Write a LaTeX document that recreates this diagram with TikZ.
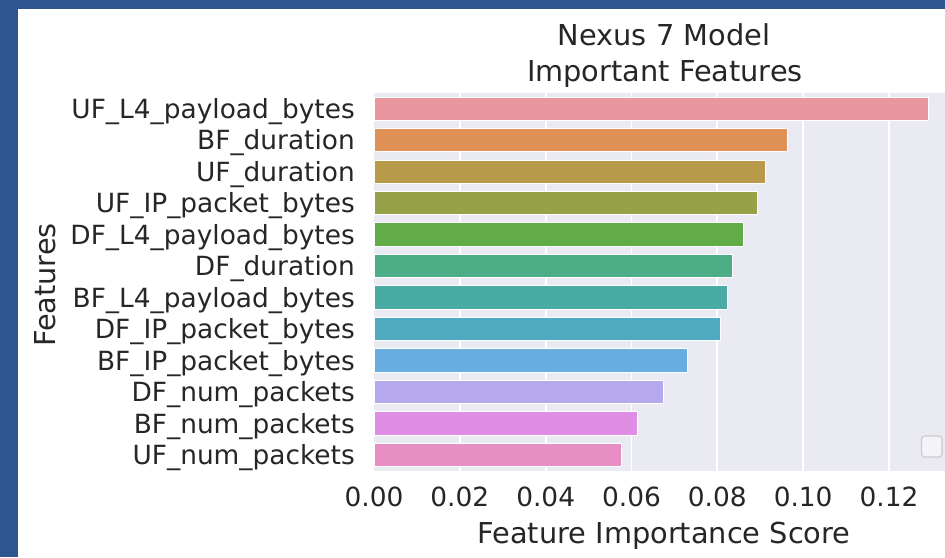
\documentclass[tikz,border=0pt]{standalone}
\usepackage{fontspec}
\setmainfont{DejaVu Sans}
\usepackage{xcolor}
\usetikzlibrary{positioning}

\definecolor{frameblue}{HTML}{2F5590}
\definecolor{plotbg}{HTML}{EAEAF2}
\definecolor{inkgray}{HTML}{262626}
\definecolor{barA}{HTML}{E9969F}
\definecolor{barB}{HTML}{E09155}
\definecolor{barC}{HTML}{B79B4A}
\definecolor{barD}{HTML}{97A148}
\definecolor{barE}{HTML}{62AC48}
\definecolor{barF}{HTML}{4CAD87}
\definecolor{barG}{HTML}{4AABA4}
\definecolor{barH}{HTML}{4FAAC0}
\definecolor{barI}{HTML}{68ADE0}
\definecolor{barJ}{HTML}{B6A8EC}
\definecolor{barK}{HTML}{E08DE6}
\definecolor{barL}{HTML}{E78FC4}

\begin{document}
\begin{tikzpicture}[
      x=1pt, y=-1pt,
      bar/.style={draw=white, line width=1pt},
      gridline/.style={draw=white, line width=1.8pt},
      ticklab/.style={inner sep=0pt, text=inkgray, font=\fontsize{26.4}{31}\selectfont},
      bigtext/.style={inner sep=0pt, text=inkgray, font=\fontsize{28.8}{35}\selectfont}
    ]
    \useasboundingbox (0,0) rectangle (945,557);
    \fill[frameblue] (0,0) rectangle (945,557);
    \fill[white] (18,9) rectangle (945,557);
    \fill[plotbg] (374,93) rectangle (945,471);

    \foreach \v/\lab in {0/0.00, 1/0.02, 2/0.04, 3/0.06, 4/0.08, 5/0.10, 6/0.12} {
      \pgfmathsetmacro\xt{374+85.83*\v}
      \ifnum\v>0 \draw[gridline] (\xt,93) -- (\xt,471); \fi
      \node[ticklab, anchor=base] (xt\v) at (\xt,506.7) {\lab};
    }

    \foreach \name/\val/\col [count=\i from 0] in {
        UF\_L4\_payload\_bytes/0.1291/barA,
        BF\_duration/0.0963/barB,
        UF\_duration/0.0913/barC,
        UF\_IP\_packet\_bytes/0.0893/barD,
        DF\_L4\_payload\_bytes/0.0860/barE,
        DF\_duration/0.0836/barF,
        BF\_L4\_payload\_bytes/0.0824/barG,
        DF\_IP\_packet\_bytes/0.0808/barH,
        BF\_IP\_packet\_bytes/0.0731/barI,
        DF\_num\_packets/0.0674/barJ,
        BF\_num\_packets/0.0614/barK,
        UF\_num\_packets/0.0577/barL} {
      \pgfmathsetmacro\yc{108.7+31.47*\i}
      \pgfmathsetmacro\xe{374+4292*\val}
      \draw[bar, fill=\col] (374,{\yc-11.6}) rectangle (\xe,{\yc+11.6});
      \node[ticklab, anchor=base east] (feat\i) at (355,{\yc+9.6}) {\name};
    }

    \draw[draw=black!20, line width=1.2pt, fill=plotbg!50!white, rounded corners=3pt]
      (921.5,436) rectangle (942,457);

    \node[bigtext, anchor=base] (title1) at (664,45) {Nexus 7 Model};
    \node[bigtext, anchor=base] (title2) at (665,81.7) {Important Features};
    \node[bigtext, anchor=base] (xlab) at (664,543) {Feature Importance Score};
    \node[bigtext, anchor=base, rotate=90] (ylab) at (55,285) {Features};
  \end{tikzpicture}
\end{document}
